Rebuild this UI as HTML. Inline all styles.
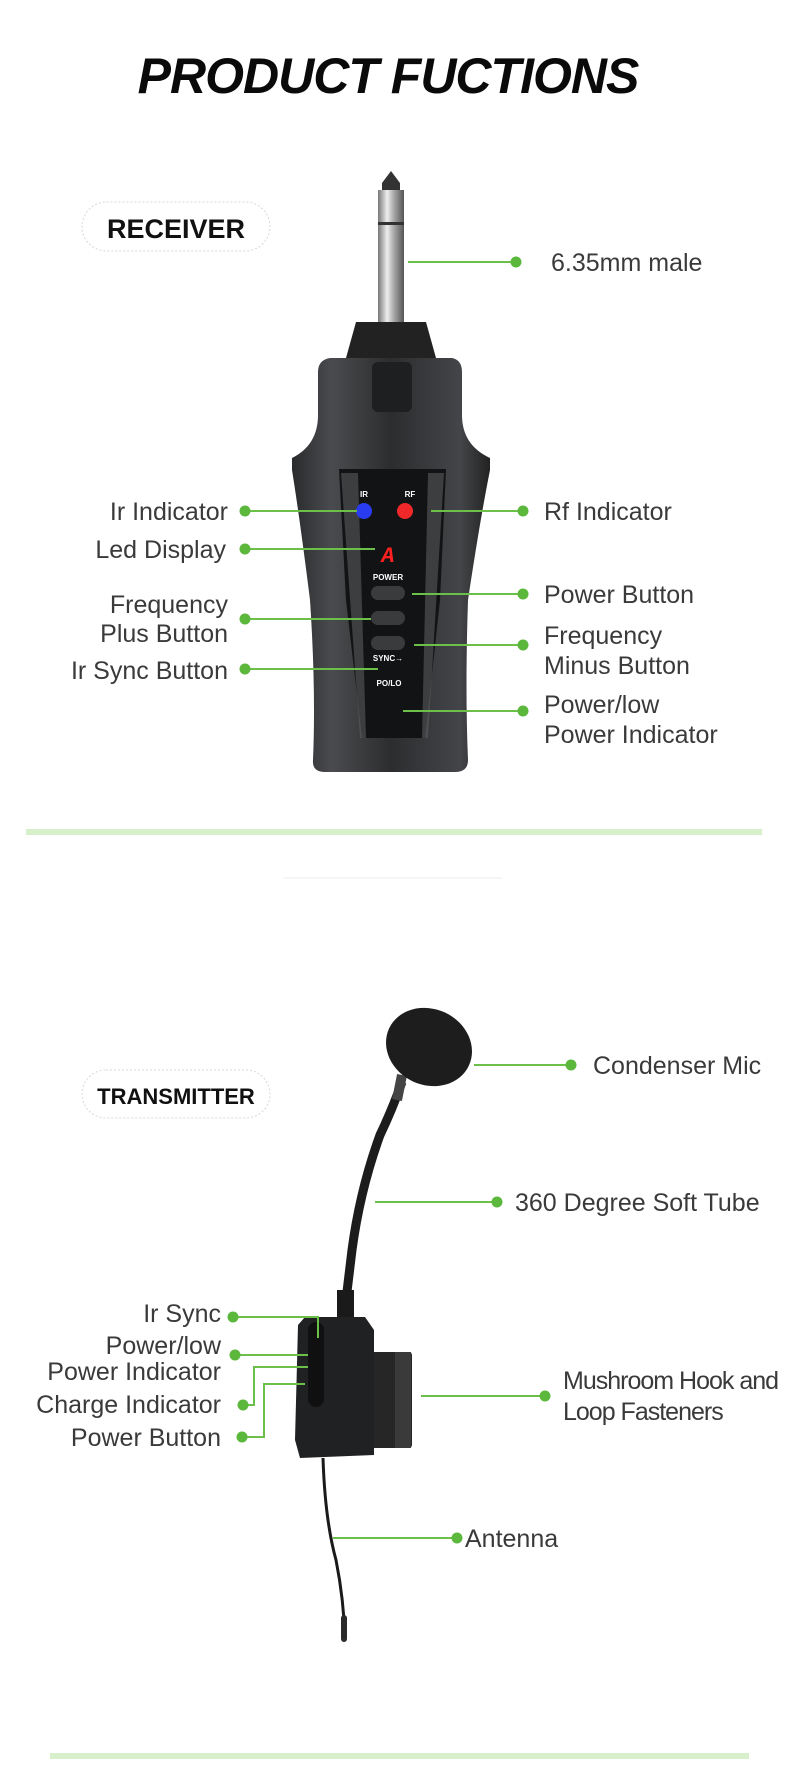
<!DOCTYPE html>
<html><head><meta charset="utf-8"><style>
html,body{margin:0;padding:0;background:#fff;}
svg{display:block}
.l{font-family:"Liberation Sans",sans-serif;font-size:25px;fill:#3a3a3a;}
</style></head><body>
<svg width="790" height="1767" viewBox="0 0 790 1767" xmlns="http://www.w3.org/2000/svg">
<defs>
<linearGradient id="bd" x1="0" x2="1"><stop offset="0" stop-color="#2a2b2d"/><stop offset="0.2" stop-color="#4a4b4e"/><stop offset="0.5" stop-color="#2c2d2f"/><stop offset="0.85" stop-color="#444548"/><stop offset="1" stop-color="#222"/></linearGradient>
<linearGradient id="pin" x1="0" x2="1"><stop offset="0" stop-color="#777"/><stop offset="0.35" stop-color="#eee"/><stop offset="0.6" stop-color="#aaa"/><stop offset="1" stop-color="#555"/></linearGradient>
</defs>
<text x="388" y="93" text-anchor="middle" font-family="Liberation Sans,sans-serif" font-weight="bold" font-style="italic" font-size="50" fill="#0a0a0a" letter-spacing="-1">PRODUCT FUCTIONS</text>
<rect x="82" y="202" width="188" height="49" rx="24.5" fill="#fff" stroke="#d8d8d8" stroke-dasharray="2 2"/>
<text x="176" y="238" text-anchor="middle" font-family="Liberation Sans,sans-serif" font-weight="bold" font-size="27" fill="#111">RECEIVER</text>
<!-- jack -->
<path d="M391 171 L382 183 L382 192 L400 192 L400 183 Z" fill="#333"/>
<rect x="378" y="190" width="26" height="132" fill="url(#pin)"/>
<rect x="378" y="222" width="26" height="3" fill="#333"/>
<path d="M356 322 L426 322 L436 358 L346 358 Z" fill="#222"/>
<!-- receiver body -->
<path d="M330 358 L452 358 Q462 360 462 372 L462 415 Q462 445 490 458 L490 470 Q480 520 468 600 Q465 690 468 760 Q468 772 455 772 L325 772 Q312 772 313 760 Q316 690 310 600 Q300 520 292 470 L292 458 Q318 445 318 415 L318 372 Q318 360 330 358 Z" fill="url(#bd)"/>
<rect x="372" y="362" width="40" height="50" rx="6" fill="#1e1f21"/>
<path d="M339 469 L446 469 L440 600 L425 738 L362 738 L346 600 Z" fill="#121314"/>
<path d="M341 473 L358 473 L366 738 L360 738 Z" fill="#5a5b5e" opacity="0.6"/>
<path d="M428 473 L444 473 L428 738 L422 738 Z" fill="#5a5b5e" opacity="0.6"/>
<text x="364" y="497" text-anchor="middle" font-family="Liberation Sans,sans-serif" font-weight="bold" font-size="8" fill="#fff">IR</text>
<text x="410" y="497" text-anchor="middle" font-family="Liberation Sans,sans-serif" font-weight="bold" font-size="8" fill="#fff">RF</text>
<circle cx="364" cy="511" r="8" fill="#2a3cf0"/>
<circle cx="405" cy="511" r="8" fill="#f0282a"/>
<text x="388" y="562" text-anchor="middle" font-family="Liberation Mono,monospace" font-weight="bold" font-style="italic" font-size="22" fill="#ff2020">A</text>
<text x="388" y="580" text-anchor="middle" font-family="Liberation Sans,sans-serif" font-weight="bold" font-size="8" fill="#fff">POWER</text>
<rect x="371" y="586" width="34" height="14" rx="7" fill="#3a3b3d"/>
<rect x="371" y="611" width="34" height="14" rx="7" fill="#3a3b3d"/>
<rect x="371" y="636" width="34" height="14" rx="7" fill="#3a3b3d"/>
<text x="388" y="661" text-anchor="middle" font-family="Liberation Sans,sans-serif" font-weight="bold" font-size="8" fill="#fff">SYNC→</text>
<text x="389" y="686" text-anchor="middle" font-family="Liberation Sans,sans-serif" font-weight="bold" font-size="8" fill="#fff">PO/LO</text>
<g stroke="#6cc04a" stroke-width="2" fill="none">
<line x1="408" y1="262" x2="516" y2="262"/>
<line x1="245" y1="511" x2="357" y2="511"/>
<line x1="245" y1="549" x2="375" y2="549"/>
<line x1="245" y1="619" x2="371" y2="619"/>
<line x1="245" y1="669" x2="378" y2="669"/>
<line x1="431" y1="511" x2="523" y2="511"/>
<line x1="412" y1="594" x2="523" y2="594"/>
<line x1="414" y1="645" x2="523" y2="645"/>
<line x1="403" y1="711" x2="523" y2="711"/>
</g>
<g fill="#5cb83c">
<circle cx="516" cy="262" r="5.5"/><circle cx="245" cy="511" r="5.5"/><circle cx="245" cy="549" r="5.5"/><circle cx="245" cy="619" r="5.5"/><circle cx="245" cy="669" r="5.5"/>
<circle cx="523" cy="511" r="5.5"/><circle cx="523" cy="594" r="5.5"/><circle cx="523" cy="645" r="5.5"/><circle cx="523" cy="711" r="5.5"/>
</g>
<text class="l" x="551" y="271">6.35mm male</text>
<text class="l" x="228" y="520" text-anchor="end">Ir Indicator</text>
<text class="l" x="226" y="558" text-anchor="end">Led Display</text>
<text class="l" x="228" y="613" text-anchor="end">Frequency</text>
<text class="l" x="228" y="642" text-anchor="end">Plus Button</text>
<text class="l" x="228" y="679" text-anchor="end">Ir Sync Button</text>
<text class="l" x="544" y="520">Rf Indicator</text>
<text class="l" x="544" y="603">Power Button</text>
<text class="l" x="544" y="644">Frequency</text>
<text class="l" x="544" y="674">Minus Button</text>
<text class="l" x="544" y="713">Power/low</text>
<text class="l" x="544" y="743">Power Indicator</text>
<rect x="26" y="829" width="736" height="6" fill="#d8efcc"/>
<rect x="283" y="877" width="219" height="2" fill="#f6f6f6"/>
<!-- transmitter -->
<rect x="82" y="1070" width="188" height="48" rx="24" fill="#fff" stroke="#d8d8d8" stroke-dasharray="2 2"/>
<text x="176" y="1104" text-anchor="middle" font-family="Liberation Sans,sans-serif" font-weight="bold" font-size="22" fill="#111">TRANSMITTER</text>
<path d="M402 1082 Q392 1110 380 1135 Q360 1190 352 1250 L346 1300" stroke="#1c1c1c" stroke-width="9" fill="none"/>
<path d="M402 1075 L397 1100" stroke="#444" stroke-width="10"/>
<ellipse cx="429" cy="1047" rx="44" ry="38" transform="rotate(25 429 1047)" fill="#1d1d1d"/>
<rect x="337" y="1290" width="17" height="30" fill="#1a1a1a"/>
<rect x="368" y="1352" width="44" height="96" rx="3" fill="#262626"/>
<rect x="395" y="1352" width="16" height="96" fill="#3a3a3a"/>
<path d="M305 1317 L365 1317 L374 1330 L374 1455 L300 1458 L295 1440 L298 1325 Z" fill="#202122"/>
<rect x="308" y="1322" width="16" height="85" rx="8" fill="#101010"/>
<path d="M323 1458 Q325 1520 336 1560 Q344 1600 345 1641" stroke="#1a1a1a" stroke-width="3" fill="none"/>
<rect x="341" y="1615" width="6" height="27" rx="3" fill="#2a2a2a"/>
<g stroke="#6cc04a" stroke-width="2" fill="none">
<line x1="474" y1="1065" x2="571" y2="1065"/>
<line x1="375" y1="1202" x2="497" y2="1202"/>
<line x1="421" y1="1396" x2="545" y2="1396"/>
<line x1="333" y1="1538" x2="457" y2="1538"/>
<polyline points="233,1317 318,1317 318,1338"/>
<line x1="233" y1="1355" x2="308" y2="1355"/>
<polyline points="243,1405 254,1405 254,1367 308,1367"/>
<polyline points="242,1437 264,1437 264,1384 305,1384"/>
</g>
<g fill="#5cb83c">
<circle cx="571" cy="1065" r="5.5"/><circle cx="497" cy="1202" r="5.5"/><circle cx="545" cy="1396" r="5.5"/><circle cx="457" cy="1538" r="5.5"/>
<circle cx="233" cy="1317" r="5.5"/><circle cx="235" cy="1355" r="5.5"/><circle cx="243" cy="1405" r="5.5"/><circle cx="242" cy="1437" r="5.5"/>
</g>
<text class="l" x="593" y="1074">Condenser Mic</text>
<text class="l" x="515" y="1211">360 Degree Soft Tube</text>
<text class="l" x="563" y="1389" font-size="20" letter-spacing="-1">Mushroom Hook and</text>
<text class="l" x="563" y="1420" font-size="20" letter-spacing="-1">Loop Fasteners</text>
<text class="l" x="465" y="1547">Antenna</text>
<text class="l" x="221" y="1322" text-anchor="end">Ir Sync</text>
<text class="l" x="221" y="1354" text-anchor="end">Power/low</text>
<text class="l" x="221" y="1380" text-anchor="end">Power Indicator</text>
<text class="l" x="221" y="1413" text-anchor="end">Charge Indicator</text>
<text class="l" x="221" y="1446" text-anchor="end">Power Button</text>
<rect x="50" y="1753" width="699" height="6" fill="#d8efcc"/>
</svg>
</body></html>
